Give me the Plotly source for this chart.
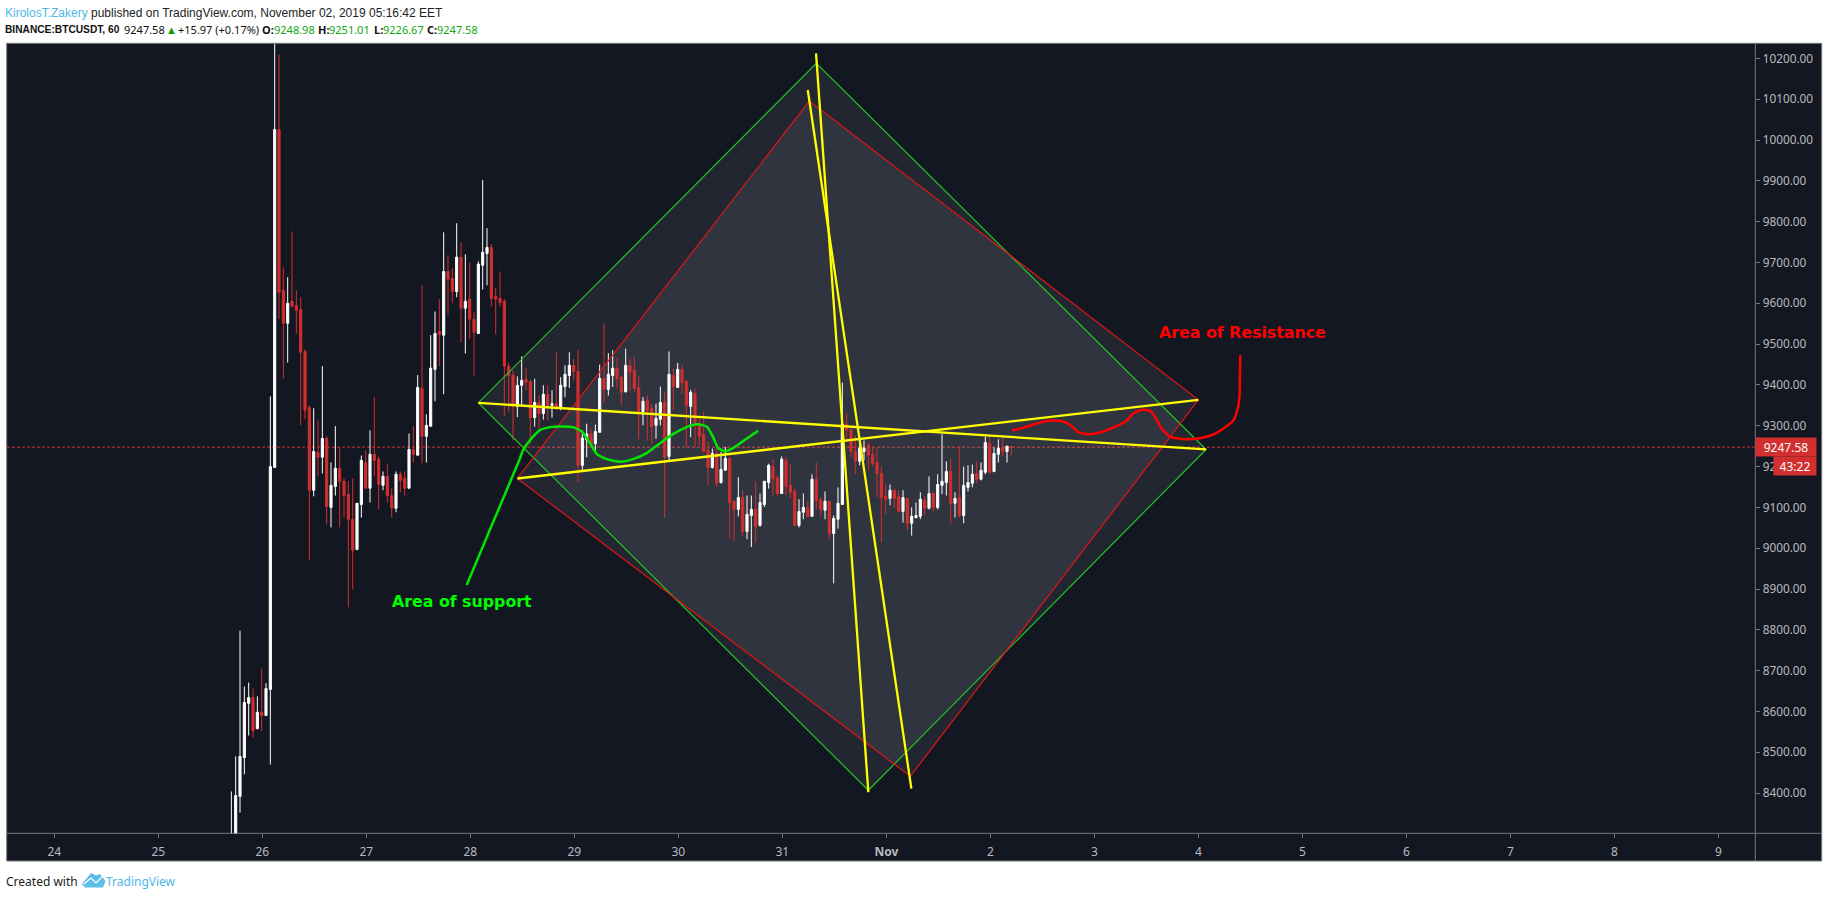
import pandas as pd
import plotly.graph_objects as go

W, H = 1828, 898
L, R, T, B = 7.0, 1755.3, 44.0, 833.3
PANEL_L, PANEL_R, PANEL_T, PANEL_B = 6.7, 1821.7, 43.3, 861.0

T0 = pd.Timestamp("2019-10-24 00:00")
FIRST_HOUR = 41
CANDLE_SHIFT = -0.15

opens = [8200,8290,8392,8487,8620,8634,8558,8598,8590,8654,9198,10026,9632,9551,9605,9595,9585,9482,9345,9142,
 9235,9223,9269,9100,9151,9196,9164,9132,9071,8997,9107,9210,9147,9230,9218,9154,9176,9129,9098,9181,
 9171,9147,9242,9228,9392,9274,9299,9438,9531,9522,9678,9661,9629,9713,9588,9610,9561,9526,9693,9722,
 9737,9617,9612,9605,9446,9423,9348,9399,9414,9409,9320,9357,9330,9377,9350,9354,9344,9396,9423,9448,
 9433,9203,9266,9280,9256,9284,9416,9389,9423,9441,9419,9383,9448,9436,9394,9335,9362,9343,9301,9316,
 9357,9225,9423,9394,9438,9409,9347,9379,9305,9279,9240,9198,9232,9161,9191,9220,9115,9095,9124,9041,
 9080,9095,9056,9107,9161,9200,9173,9134,9215,9154,9139,9056,9088,9100,9078,9169,9120,9093,9115,9036,
 9071,9107,9304,9291,9237,9213,9237,9252,9230,9210,9183,9127,9122,9142,9127,9090,9122,9061,9075,9078,
 9117,9098,9134,9100,9154,9161,9188,9110,9124,9080,9149,9159,9183,9169,9186,9257,9188,9230,9247,9237,9248.98]
highs = [8404,8490,8798,8661,8671,8656,8637,8705,8669,9372,10260,10210,9688,9664,9776,9632,9615,9487,9350,9343,
 9313,9446,9274,9210,9299,9245,9171,9164,9171,9110,9227,9240,9289,9370,9225,9188,9205,9147,9188,9188,
 9188,9281,9299,9424,9644,9328,9522,9580,9610,9774,9718,9686,9796,9750,9720,9700,9580,9703,9902,9784,
 9745,9637,9678,9610,9455,9436,9421,9470,9441,9411,9415,9374,9399,9399,9387,9480,9419,9448,9480,9464,
 9485,9289,9305,9295,9303,9450,9551,9478,9485,9467,9423,9489,9464,9468,9421,9370,9374,9354,9354,9396,
 9384,9482,9440,9454,9448,9411,9388,9391,9317,9334,9260,9244,9252,9236,9248,9223,9115,9174,9142,9129,
 9129,9164,9134,9164,9207,9217,9178,9225,9223,9205,9146,9120,9134,9115,9181,9210,9124,9139,9115,9080,
 9149,9406,9330,9291,9276,9264,9264,9259,9250,9245,9200,9156,9156,9144,9142,9142,9122,9100,9112,9137,
 9127,9176,9137,9181,9279,9213,9220,9137,9250,9200,9203,9205,9213,9210,9274,9276,9247,9267,9272,9250,9251.01]
lows = [8150,8250,8352,8446,8541,8536,8556,8551,8590,8470,9198,9561,9416,9455,9590,9526,9301,9316,8970,9127,
 9176,9183,9058,9051,9129,9051,9075,8855,8899,8995,9075,9146,9112,9176,9095,9142,9112,9075,9088,9137,
 9129,9146,9210,9227,9208,9210,9298,9360,9446,9377,9571,9600,9615,9504,9477,9512,9421,9526,9634,9644,
 9593,9524,9593,9323,9335,9264,9321,9350,9387,9256,9298,9293,9315,9313,9320,9338,9338,9370,9393,9411,
 9162,9189,9223,9246,9238,9283,9356,9374,9395,9393,9350,9382,9387,9383,9267,9301,9264,9256,9268,9301,
 9074,9215,9338,9394,9379,9248,9272,9248,9252,9236,9154,9195,9151,9158,9190,9024,9019,9078,9029,9022,
 9003,9013,9053,9101,9146,9129,9129,9134,9129,9122,9055,9051,9071,9075,9078,9095,9078,9071,9022,8914,
 9048,9107,9267,9223,9181,9203,9215,9193,9200,9124,9014,9083,9105,9098,9090,9063,9044,9031,9073,9071,
 9080,9095,9090,9095,9132,9129,9061,9075,9075,9061,9139,9149,9159,9166,9181,9183,9186,9210,9225,9210,9226.67]
closes = [8290,8394,8490,8622,8634,8553,8598,8590,8656,9200,10026,9627,9551,9600,9593,9583,9480,9338,9142,9237,
 9223,9269,9102,9154,9196,9164,9129,9071,8995,9110,9215,9147,9230,9215,9156,9176,9129,9098,9181,9166,
 9147,9242,9230,9394,9274,9301,9441,9526,9524,9678,9659,9629,9713,9588,9605,9561,9529,9696,9725,9737,
 9612,9610,9602,9446,9423,9352,9399,9411,9406,9320,9357,9330,9377,9350,9354,9344,9399,9426,9448,9433,
 9203,9270,9280,9252,9286,9416,9389,9426,9441,9416,9382,9448,9431,9392,9335,9360,9338,9298,9318,9357,
 9223,9426,9396,9438,9406,9350,9382,9305,9274,9237,9198,9232,9159,9193,9220,9112,9095,9124,9041,9083,
 9095,9053,9112,9164,9203,9171,9134,9218,9151,9137,9056,9090,9100,9078,9169,9117,9095,9115,9036,9073,
 9110,9304,9289,9237,9213,9245,9245,9228,9208,9183,9124,9120,9142,9122,9090,9124,9061,9078,9080,9120,
 9098,9134,9100,9156,9164,9188,9110,9122,9080,9154,9161,9181,9169,9191,9259,9186,9232,9245,9237,9250,9247.58]

price_ticks = list(range(8400, 10300, 100))
day_hours = [24 * i for i in range(17)]
day_labels = ["24","25","26","27","28","29","30","31","<b>Nov</b>","2","3","4","5","6","7","8","9"]

green_box_h = [97.84, 175.85, 265.79, 187.85]
green_box_p = [9356.1, 10188, 9241.9, 8406.9]
red_box_h = [106.85, 174.23, 264.01, 197.54]
red_box_p = [9170.8, 10095.6, 9363.5, 8441.2]

yellow_lines = [
    ([97.84, 265.79], [9356.1, 9241.9]),
    ([106.85, 264.01], [9170.8, 9363.5]),
    ([175.78, 187.85], [10212.5, 8402]),
    ([173.87, 197.78], [10122.5, 8411]),
]

green_curve_h = [95.17,99.5,101.45,107.47,108.16,109.78,112.09,114.4,116.7,119.7,121.8,123.6,125.2,127.5,130.6,133.5,136.8,139.8,142.8,146.0,148.5,150.6,152.0,153.2,154.8,156.6,159.9,162.4]
green_curve_p = [8910,9019.6,9068.6,9220.6,9240.2,9264.7,9289.2,9296.6,9298.3,9296.6,9285,9257.4,9230.4,9218.1,9211.5,9218.1,9233.6,9257.4,9279.4,9297.3,9303.9,9297.3,9272.8,9245.1,9237.7,9245.1,9269.6,9287.5]
red_curve_h = [221.0,223.6,226.7,229.8,232.9,234.8,236.3,238.6,241.3,244.4,247.1,249.0,250.9,252.9,254.0,255.5,257.5,260.6,264.4,267.5,269.8,272.1,273.0,273.5,273.6,273.7]
red_curve_p = [9288.4,9294.9,9305.5,9312.9,9310.4,9299,9284.3,9279.4,9283.5,9295.7,9309.6,9330,9339,9336.6,9321.8,9293.3,9272.8,9267.1,9269.6,9278.6,9293.3,9313.7,9338.2,9370.9,9428,9473]

LAST_PRICE = 9247.58
BG = "#131722"; AXIS = "#787878"; LABEL = "#b8bac0"
RED = "#d32f2f"; WHITE = "#ffffff"; GREEN_TXT = "#0fa80f"; BLUE = "#4db6e8"
BOX_FILL = "rgba(238,238,255,0.07)"


def when(hours):
    return [T0 + pd.Timedelta(hours=h) for h in hours]

def fx(px):
    return px / W

def fy(py):
    return 1 - py / H

def box_path(hs, ps):
    pts = [f"{t:%Y-%m-%d_%H:%M:%S},{p}" for t, p in zip(when(hs), ps)]
    return "M" + " L".join(pts) + " Z"

candle_x = when([h + CANDLE_SHIFT for h in range(FIRST_HOUR, FIRST_HOUR + len(opens))])

fig = go.Figure()
fig.add_trace(go.Candlestick(
    x=candle_x, open=opens, high=highs, low=lows, close=closes,
    whiskerwidth=0,
    increasing=dict(line=dict(color=WHITE, width=1), fillcolor=WHITE),
    decreasing=dict(line=dict(color=RED, width=1), fillcolor=RED),
    hoverinfo="skip", showlegend=False,
))

for hs, ps, col in [(green_box_h, green_box_p, "#22c422"), (red_box_h, red_box_p, "#e01616")]:
    fig.add_trace(go.Scatter(x=when(hs + hs[:1]), y=ps + ps[:1], mode="lines",
                             line=dict(color=col, width=1.2), hoverinfo="skip", showlegend=False))
for hs, ps in yellow_lines:
    fig.add_trace(go.Scatter(x=when(hs), y=ps, mode="lines",
                             line=dict(color="#ffff00", width=2.3), hoverinfo="skip", showlegend=False))
for hs, ps, col in [(green_curve_h, green_curve_p, "#00e600"), (red_curve_h, red_curve_p, "#ff0000")]:
    fig.add_trace(go.Scatter(x=when(hs), y=ps, mode="lines",
                             line=dict(color=col, width=2.5, shape="spline", smoothing=0.5),
                             hoverinfo="skip", showlegend=False))

shapes = [
    dict(type="rect", xref="paper", yref="paper", x0=fx(PANEL_L), x1=fx(PANEL_R), y0=fy(PANEL_B), y1=fy(PANEL_T),
         fillcolor=BG, line=dict(color=AXIS, width=1), layer="below"),
    dict(type="line", xref="paper", yref="paper", x0=fx(PANEL_L), x1=fx(PANEL_R), y0=fy(B), y1=fy(B),
         line=dict(color=AXIS, width=1), layer="below"),
    dict(type="line", xref="paper", yref="paper", x0=fx(R), x1=fx(R), y0=fy(PANEL_B), y1=fy(PANEL_T),
         line=dict(color=AXIS, width=1), layer="below"),
    dict(type="path", xref="x", yref="y", path=box_path(green_box_h, green_box_p),
         fillcolor=BOX_FILL, line=dict(width=0), layer="below"),
    dict(type="path", xref="x", yref="y", path=box_path(red_box_h, red_box_p),
         fillcolor=BOX_FILL, line=dict(width=0), layer="below"),
    dict(type="line", xref="paper", yref="y", x0=fx(L), x1=fx(R), y0=LAST_PRICE, y1=LAST_PRICE,
         line=dict(color=RED, width=1, dash="3px,2px"), layer="below"),
    # TradingView logo mark in the footer
    dict(type="path", xref="paper", yref="paper",
         path=f"M{fx(82)},{fy(884)} L{fx(91)},{fy(873)} L{fx(96)},{fy(875.5)} L{fx(100)},{fy(874)} L{fx(105.5)},{fy(881)} L{fx(103)},{fy(887.5)} L{fx(85)},{fy(887.5)} Z",
         fillcolor="#5cbde8", line=dict(width=0)),
    dict(type="path", xref="paper", yref="paper",
         path=f"M{fx(84)},{fy(884)} L{fx(91)},{fy(878)} L{fx(96)},{fy(883)} L{fx(103)},{fy(876)}",
         line=dict(color="#ffffff", width=1.2)),
]

HEAD = "Noto Sans"
SANS = "Liberation Sans"
TEXT_PAD = 2.3

def head_text(x, y, text, color="#111111", size=11.2, family=HEAD):
    return dict(xref="paper", yref="paper", x=fx(x - TEXT_PAD), y=fy(y), xanchor="left", yanchor="middle",
                showarrow=False, font=dict(family=family, size=size, color=color), text=text)

annotations = [
    head_text(5.5, 13,
              f'<span style="color:{BLUE}">KirolosT.Zakery</span> published on TradingView.com, November 02, 2019 05:16:42 EET',
              color="#222222", size=12, family=SANS),
    head_text(5.7, 29.5, "<b>BINANCE:BTCUSDT, 60</b>", size=10.2, family=SANS),
    head_text(124, 29.5, "9247.58", size=11),
    head_text(166.7, 29.5, "▲", color="#0a9c0a", size=11),
    head_text(178, 29.5, "+15.97 (+0.17%)", size=11),
    head_text(262.7, 29.5, "<b>O:</b>", size=11),
    head_text(274, 29.5, "9248.98", color=GREEN_TXT, size=11),
    head_text(318.3, 29.5, "<b>H:</b>", size=11),
    head_text(329.3, 29.5, "9251.01", color=GREEN_TXT, size=11),
    head_text(374.3, 29.5, "<b>L:</b>", size=11),
    head_text(383.3, 29.5, "9226.67", color=GREEN_TXT, size=11),
    head_text(427.7, 29.5, "<b>C:</b>", size=11),
    head_text(437.7, 29.5, "9247.58", color=GREEN_TXT, size=11),
    head_text(6.7, 881, "Created with", color="#222222", size=12),
    head_text(106, 881, "TradingView", color=BLUE, size=12),
    dict(x=when([94.1])[0], y=8868.4, xref="x", yref="y", showarrow=False,
         font=dict(family="DejaVu Sans", size=15.8, color="#00ff00"), text="<b>Area of support</b>"),
    dict(x=when([274.25])[0], y=9529.4, xref="x", yref="y", showarrow=False,
         font=dict(family="DejaVu Sans", size=15.8, color="#ff0000"), text="<b>Area of Resistance</b>"),
    dict(xref="paper", yref="y", x=fx(1755), y=LAST_PRICE, xanchor="left", yanchor="middle", showarrow=False,
         width=60, height=18, borderpad=0, bgcolor=RED, align="center",
         font=dict(family=HEAD, size=12, color="#ffffff"), text=f"{LAST_PRICE:.2f}"),
    dict(xref="paper", yref="y", x=fx(1773), y=LAST_PRICE, yshift=-19, xanchor="left", yanchor="middle", showarrow=False,
         width=42, height=18, borderpad=0, bgcolor=RED, align="center",
         font=dict(family=HEAD, size=12, color="#ffffff"), text="43:22"),
]

fig.update_layout(
    width=W, height=H, margin=dict(l=0, r=0, t=0, b=0),
    paper_bgcolor="#ffffff", plot_bgcolor=BG, boxgap=0.3,
    showlegend=False, hovermode=False, shapes=shapes, annotations=annotations,
    xaxis=dict(
        type="date", domain=[fx(L), fx(R)], anchor="y",
        range=when([(L - 54.33) / 4.3333, (R - 54.33) / 4.3333]),
        rangeslider=dict(visible=False), showgrid=False, zeroline=False, showline=False,
        tickmode="array", tickvals=when(day_hours), ticktext=day_labels,
        ticks="outside", ticklen=4, tickcolor=AXIS, tickwidth=1,
        tickfont=dict(family=HEAD, size=12, color=LABEL), ticklabelstandoff=3,
    ),
    yaxis=dict(
        domain=[fy(B), fy(T)], anchor="x", side="right", range=[8301.5, 10235.3],
        showgrid=False, zeroline=False, showline=False,
        tickmode="array", tickvals=price_ticks, tickformat=".2f",
        ticks="outside", ticklen=4, tickcolor=AXIS, tickwidth=1,
        tickfont=dict(family=HEAD, size=11.8, color=LABEL),
    ),
)

fig.write_html("out.html", config=dict(displayModeBar=False),
               post_script="document.body.style.margin='0';document.body.style.overflow='hidden';")
